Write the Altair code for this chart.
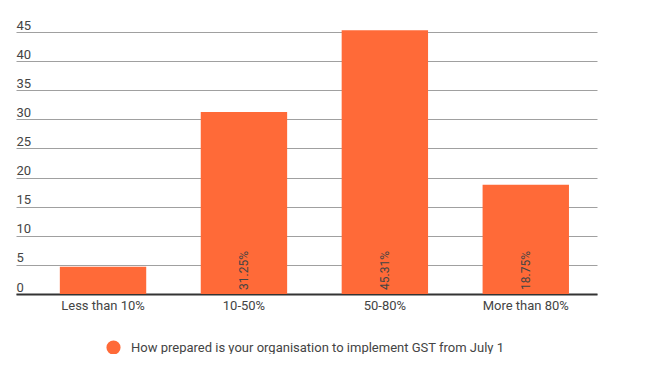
import altair as alt
import pandas as pd

categories = ["Less than 10%", "10-50%", "50-80%", "More than 80%"]
values = [4.69, 31.25, 45.31, 18.75]
bar_labels = ["", "31.25%", "45.31%", "18.75%"]
series_name = "How prepared is your organisation to implement GST from July 1"
y_ticks = [0, 5, 10, 15, 20, 25, 30, 35, 40, 45]

df = pd.DataFrame({"cat": categories, "val": values, "lab": bar_labels,
                   "base": [0] * 4, "series": [series_name] * 4})

FONT = "Roboto"
ORANGE = "#FF6A38"

x_scale = alt.Scale(paddingInner=0.387, paddingOuter=0.255, align=0.61)
x_axis = alt.Axis(labelAngle=0, labelColor="#444444", labelFont=FONT, labelFontSize=13,
                  ticks=False, grid=False, labelPadding=5, domainColor="#333333", domainWidth=2)
y_scale = alt.Scale(domain=[0, 45], nice=False)
y_axis = alt.Axis(values=y_ticks, ticks=False, domain=False, labelAlign="left",
                  labelBaseline="alphabetic", labelOffset=-3, labelPadding=0,
                  labelOverlap=False, labelFlush=False,
                  labelColor="#444444", labelFont=FONT, labelFontSize=13,
                  gridColor="#a0a0a0", gridWidth=1)

bars = alt.Chart(df).mark_bar(color=ORANGE).encode(
    x=alt.X("cat:N", sort=categories, title=None, scale=x_scale, axis=x_axis),
    y=alt.Y("val:Q", title=None, scale=y_scale, axis=y_axis),
    color=alt.Color("series:N", scale=alt.Scale(range=[ORANGE]),
                    legend=alt.Legend(title=None, orient="none", legendX=90, legendY=308,
                                      symbolType="circle", symbolSize=200, symbolOpacity=1,
                                      labelFont=FONT, labelFontSize=13, labelColor="#444444",
                                      labelOffset=10,
                                      labelLimit=600, padding=0, symbolStrokeWidth=0)),
)

texts = alt.Chart(df).mark_text(angle=270, align="left", baseline="middle", dx=4,
                                font=FONT, fontSize=12, color="#444444").encode(
    x=alt.X("cat:N", sort=categories, title=None, scale=x_scale, axis=x_axis),
    y=alt.Y("base:Q", title=None, scale=y_scale, axis=y_axis),
    text="lab:N",
)

chart = alt.layer(bars, texts).properties(
    width=581, height=262,
    background="white",
    autosize=alt.AutoSizeParams(type="none"),
    padding={"left": 8, "top": 24, "right": 60, "bottom": 60},
).configure_view(stroke="transparent", strokeWidth=0)

chart.save("out.html", embed_options={"renderer": "svg", "actions": False})
